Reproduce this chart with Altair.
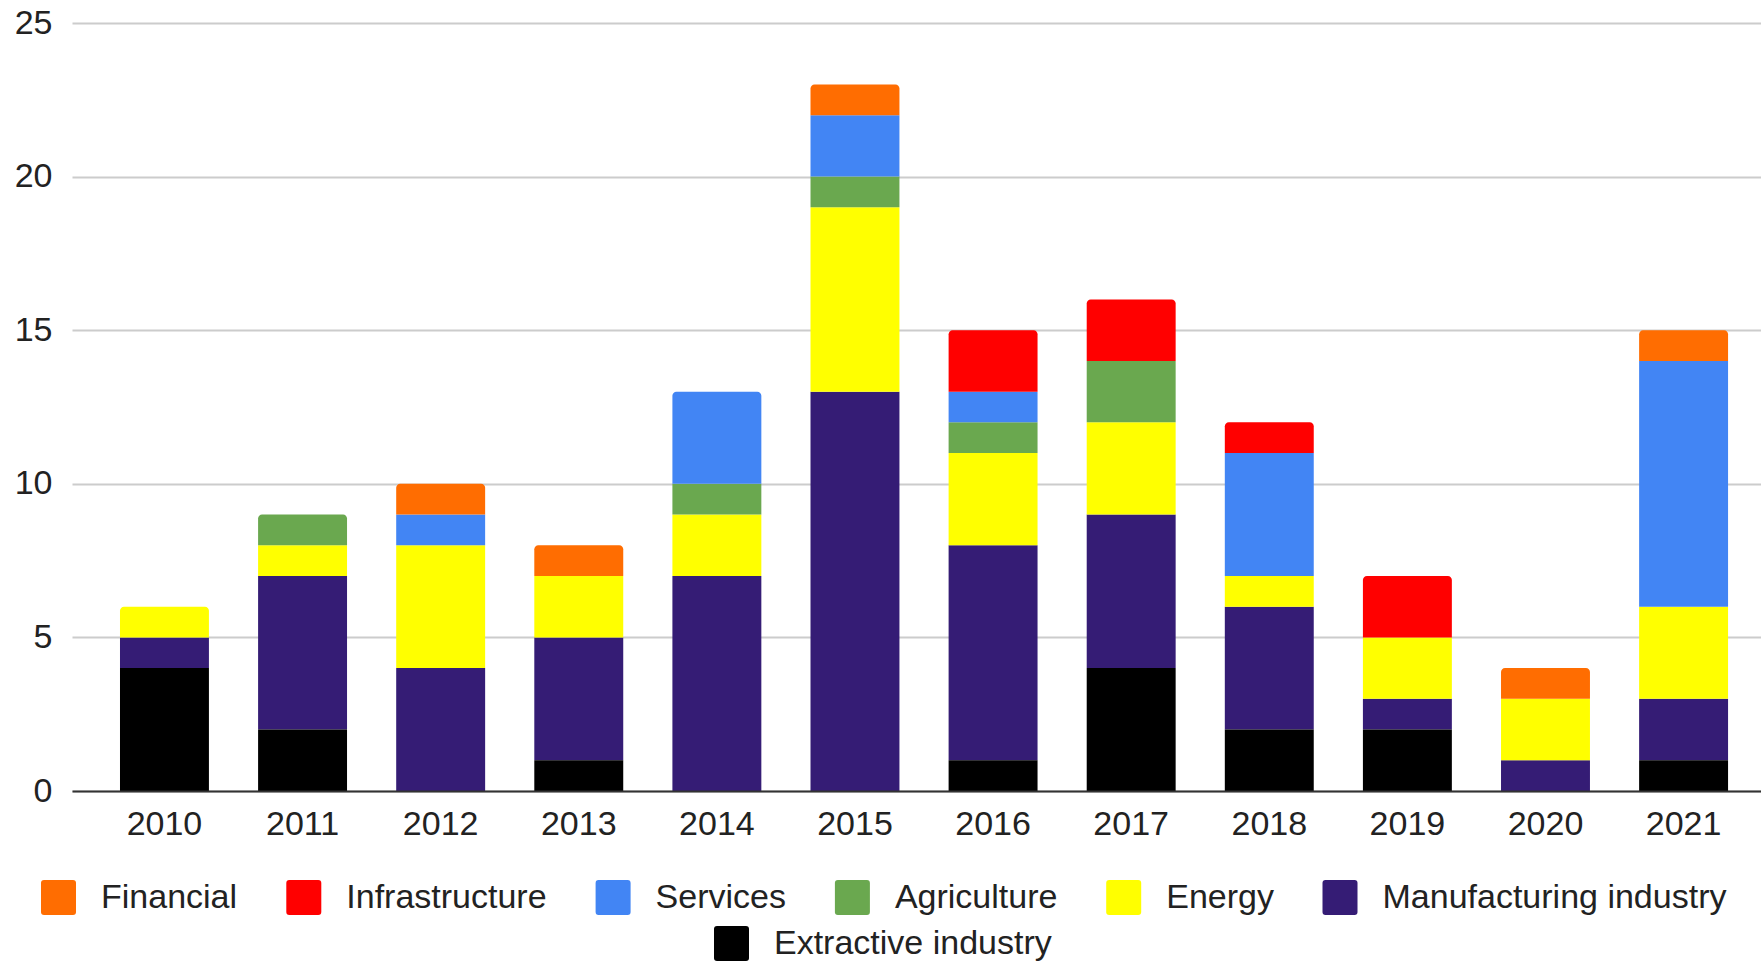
import altair as alt
import pandas as pd

years = [2010, 2011, 2012, 2013, 2014, 2015, 2016, 2017, 2018, 2019, 2020, 2021]
sectors = ["Extractive industry", "Manufacturing industry", "Energy", "Agriculture",
           "Services", "Infrastructure", "Financial"]
colors = ["#000000", "#351c75", "#ffff00", "#6aa84f", "#4285f4", "#ff0000", "#ff6d01"]

extractive = [4, 2, 0, 1, 0, 0, 1, 4, 2, 2, 0, 1]
manufacturing = [1, 5, 4, 4, 7, 13, 7, 5, 4, 1, 1, 2]
energy = [1, 1, 4, 2, 2, 6, 3, 3, 1, 2, 2, 3]
agriculture = [0, 1, 0, 0, 1, 1, 1, 2, 0, 0, 0, 0]
services = [0, 0, 1, 0, 3, 2, 1, 0, 4, 0, 0, 8]
infrastructure = [0, 0, 0, 0, 0, 0, 2, 2, 1, 2, 0, 0]
financial = [0, 0, 1, 1, 0, 1, 0, 0, 0, 0, 1, 1]

series = [extractive, manufacturing, energy, agriculture, services, infrastructure, financial]

rows = []
for si, (s, vals) in enumerate(zip(sectors, series)):
    for yr, v in zip(years, vals):
        if v > 0:
            rows.append({"year": str(yr), "sector": s, "order": si, "value": v})
df = pd.DataFrame(rows)

legend_row1 = ["Financial", "Infrastructure", "Services", "Agriculture", "Energy",
               "Manufacturing industry"]
legend_row1_colors = [colors[sectors.index(s)] for s in legend_row1]

FONT = "Liberation Sans"
ROUNDED = ("M-0.83,-1H0.83Q1,-1,1,-0.83V0.83Q1,1,0.83,1H-0.83Q-1,1,-1,0.83"
           "V-0.83Q-1,-1,-0.83,-1Z")

base = alt.Chart(df).transform_stack(
    stack="value", groupby=["year"], as_=["y0", "y1"],
    sort=[alt.SortField("order", order="ascending")]
).transform_joinaggregate(top="max(y1)", groupby=["year"])

x_enc = alt.X("year:N", title=None,
              scale=alt.Scale(paddingInner=0.356, paddingOuter=0.293, align=0.593),
              axis=alt.Axis(labelAngle=0, ticks=False, domain=True, domainColor="#333333",
                            domainWidth=2, grid=False, labelFontSize=34, labelFont=FONT,
                            labelColor="#222222", labelPadding=16, zindex=1))
y_enc = alt.Y("y1:Q", title=None, scale=alt.Scale(domain=[0, 25], nice=False),
              axis=alt.Axis(values=[0, 5, 10, 15, 20, 25], ticks=False, domain=False,
                            grid=True, gridColor="#cccccc", gridWidth=2,
                            labelFontSize=34, labelFont=FONT, labelColor="#222222",
                            labelPadding=20))
y2_enc = alt.Y2("y0:Q")

legend1 = alt.Legend(title=None, orient="none", legendX=-31, legendY=857,
                     direction="horizontal", symbolType=ROUNDED, symbolSize=1225,
                     symbolStrokeWidth=0, labelFontSize=34, labelFont=FONT,
                     labelColor="#222222", labelOffset=25, columnPadding=48.3,
                     labelLimit=800, padding=0)
legend2 = alt.Legend(title=None, orient="none", legendX=642, legendY=903,
                     direction="horizontal", symbolType=ROUNDED, symbolSize=1225,
                     symbolStrokeWidth=0, labelFontSize=34, labelFont=FONT,
                     labelColor="#222222", labelOffset=25, columnPadding=48,
                     labelLimit=800, padding=0)

color_enc = alt.Color("sector:N",
                      scale=alt.Scale(domain=legend_row1, range=legend_row1_colors),
                      legend=legend1)

lower = base.transform_filter(
    "datum.sector != 'Extractive industry' && datum.y1 < datum.top"
).mark_bar().encode(x=x_enc, y=y_enc, y2=y2_enc, color=color_enc)

top = base.transform_filter(
    "datum.sector != 'Extractive industry' && datum.y1 >= datum.top"
).mark_bar(cornerRadiusTopLeft=4, cornerRadiusTopRight=4).encode(
    x=x_enc, y=y_enc, y2=y2_enc, color=color_enc)

extr = base.transform_filter(
    "datum.sector == 'Extractive industry'"
).transform_calculate(group="datum.sector").mark_bar().encode(
    x=x_enc, y=y_enc, y2=y2_enc,
    fill=alt.Fill("group:N",
                  scale=alt.Scale(domain=["Extractive industry"], range=["#000000"]),
                  legend=legend2))

chart = alt.layer(lower, top, extr).properties(
    width=1689, height=768,
    autosize=alt.AutoSizeParams(type="none"),
    padding={"left": 72, "top": 23, "right": 0, "bottom": 170},
).configure(background="white").configure_view(stroke=None)

chart.save("out.html", embed_options={"renderer": "svg", "actions": False})
